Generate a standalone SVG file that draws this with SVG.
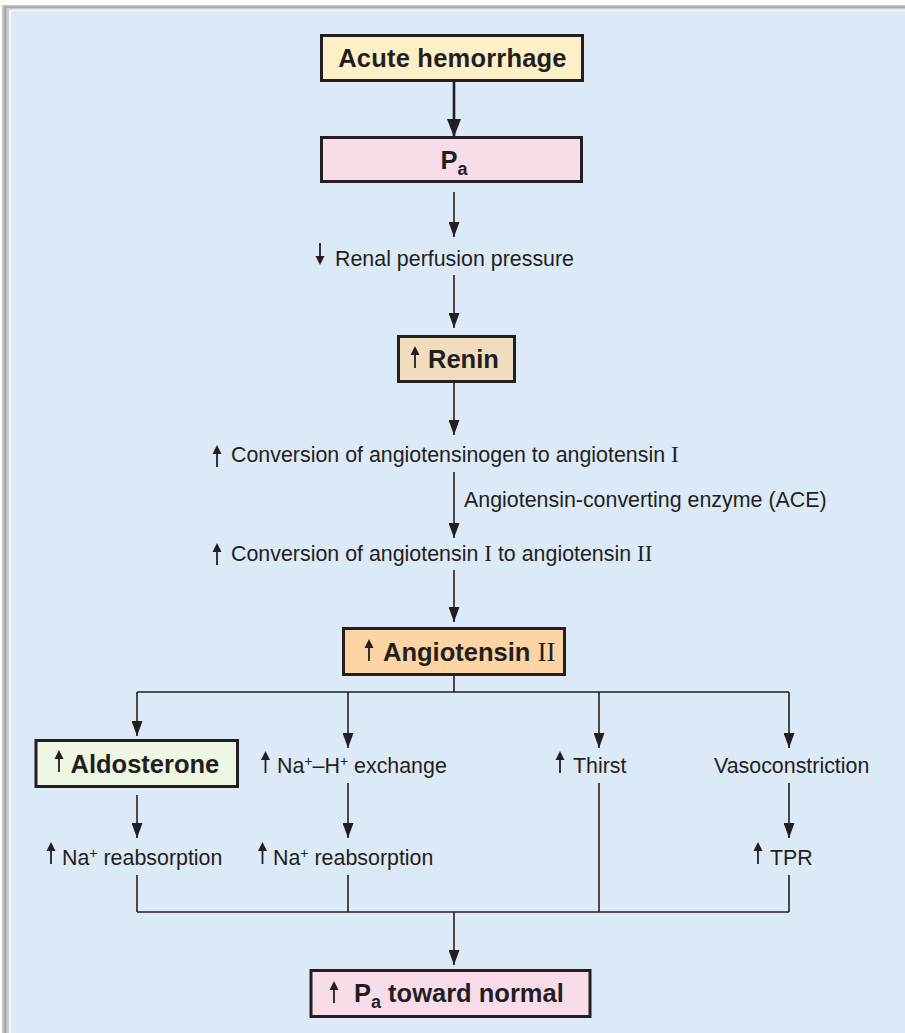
<svg xmlns="http://www.w3.org/2000/svg" xmlns:xlink="http://www.w3.org/1999/xlink" width="905" height="1033" viewBox="0 0 905 1033">
  <style>
    .box { stroke: #231f20; stroke-width: 3; }
    .conn { stroke: #231f20; stroke-width: 1.6; fill: none; }
    .thick { stroke-width: 2.6; }
    .t { font-family: "Liberation Sans", Arial, sans-serif; font-size: 21.4px; fill: #231f20; }
    .b { font-family: "Liberation Sans", Arial, sans-serif; font-size: 25.5px; font-weight: bold; fill: #231f20; }
    .rom { font-family: "Liberation Serif", "Times New Roman", serif; font-weight: normal; font-size: 23px; }
    .romb { font-family: "Liberation Serif", "Times New Roman", serif; font-weight: normal; font-size: 27px; }
  </style>
  <defs>
    <marker id="ah" markerUnits="userSpaceOnUse" markerWidth="15" markerHeight="11" refX="15" refY="5.5" orient="auto">
      <path d="M0,0 L15,5.5 L0,11 z" fill="#231f20"/>
    </marker>
    <marker id="ahb" markerUnits="userSpaceOnUse" markerWidth="18" markerHeight="14" refX="18" refY="7" orient="auto">
      <path d="M0,0 L18,7 L0,14 z" fill="#231f20"/>
    </marker>
    <g id="up">
      <path d="M0,0 L4.5,9 L-4.5,9 z" stroke="none" fill="#231f20"/>
      <line x1="0" y1="7" x2="0" y2="22" stroke="#231f20" stroke-width="1.8"/>
    </g>
    <g id="down">
      <path d="M0,22 L4.5,13 L-4.5,13 z" stroke="none" fill="#231f20"/>
      <line x1="0" y1="0" x2="0" y2="15" stroke="#231f20" stroke-width="1.8"/>
    </g>
  </defs>

  <!-- frame -->
  <rect x="0" y="0" width="905" height="1033" fill="#ffffff"/>
  <rect x="2" y="5" width="903" height="1028" fill="#c4c4c4"/>
  <rect x="4" y="6.5" width="901" height="1027" fill="#a8a8a8"/>
  <rect x="6.5" y="8" width="899" height="1025" fill="#cdcdcd"/>
  <rect x="9" y="9.5" width="896" height="1024" fill="#f4f6f8"/>
  <rect x="11" y="11" width="894" height="1022" fill="#dce9f7"/>

  <g id="connectors">
    <line class="conn thick" x1="454" y1="81" x2="454" y2="137" marker-end="url(#ahb)"/>
    <line class="conn" x1="454" y1="192" x2="454" y2="237" marker-end="url(#ah)"/>
    <line class="conn" x1="454" y1="275" x2="454" y2="328" marker-end="url(#ah)"/>
    <line class="conn" x1="454" y1="383" x2="454" y2="435" marker-end="url(#ah)"/>
    <line class="conn" x1="454" y1="472" x2="454" y2="538" marker-end="url(#ah)"/>
    <line class="conn" x1="454" y1="570" x2="454" y2="622" marker-end="url(#ah)"/>
    <line class="conn" x1="454" y1="675" x2="454" y2="692"/>
    <line class="conn" x1="137" y1="692" x2="789" y2="692"/>
    <line class="conn" x1="137" y1="692" x2="137" y2="736" marker-end="url(#ah)"/>
    <line class="conn" x1="348" y1="692" x2="348" y2="748" marker-end="url(#ah)"/>
    <line class="conn" x1="599" y1="692" x2="599" y2="748" marker-end="url(#ah)"/>
    <line class="conn" x1="789" y1="692" x2="789" y2="748" marker-end="url(#ah)"/>
    <line class="conn" x1="137" y1="795" x2="137" y2="838" marker-end="url(#ah)"/>
    <line class="conn" x1="348" y1="783" x2="348" y2="838" marker-end="url(#ah)"/>
    <line class="conn" x1="789" y1="783" x2="789" y2="838" marker-end="url(#ah)"/>
    <line class="conn" x1="137" y1="875" x2="137" y2="912"/>
    <line class="conn" x1="348" y1="875" x2="348" y2="912"/>
    <line class="conn" x1="599" y1="783" x2="599" y2="912"/>
    <line class="conn" x1="789" y1="875" x2="789" y2="912"/>
    <line class="conn" x1="137" y1="912" x2="789" y2="912"/>
    <line class="conn" x1="454" y1="912" x2="454" y2="965" marker-end="url(#ah)"/>
  </g>

  <g id="acute">
    <rect class="box" x="321.5" y="35.5" width="261" height="45" fill="#fdf0c9"/>
    <text class="b" x="452.5" y="66.5" text-anchor="middle" letter-spacing="0.2">Acute hemorrhage</text>
  </g>

  <g id="pa">
    <rect class="box" x="321.5" y="137.5" width="260" height="44" fill="#f9dce9"/>
    <text class="b" x="454" y="169" text-anchor="middle">P<tspan font-size="18" dy="6">a</tspan></text>
  </g>

  <g id="renal">
    <use xlink:href="#down" x="320" y="243"/>
    <text class="t" x="335" y="265.5">Renal perfusion pressure</text>
  </g>

  <g id="renin">
    <rect class="box" x="398.5" y="336.5" width="116" height="45" fill="#f1dcbe"/>
    <use xlink:href="#up" x="415" y="346"/>
    <text class="b" x="428" y="368">Renin</text>
  </g>

  <g id="conv1">
    <use xlink:href="#up" x="217" y="445"/>
    <text class="t" x="231" y="462">Conversion of angiotensinogen to angiotensin <tspan class="rom">I</tspan></text>
  </g>

  <g id="ace">
    <text class="t" x="464" y="507">Angiotensin-converting enzyme (ACE)</text>
  </g>

  <g id="conv2">
    <use xlink:href="#up" x="217" y="543"/>
    <text class="t" x="231" y="561">Conversion of angiotensin <tspan class="rom">I</tspan> to angiotensin <tspan class="rom">II</tspan></text>
  </g>

  <g id="angiotensin2">
    <rect class="box" x="343.5" y="628.5" width="221" height="46" fill="#fdd4a3"/>
    <use xlink:href="#up" x="369" y="639"/>
    <text class="b" x="383" y="661">Angiotensin <tspan class="romb">II</tspan></text>
  </g>

  <g id="aldosterone">
    <rect class="box" x="36" y="740.5" width="201.5" height="46" fill="#eef6e4"/>
    <use xlink:href="#up" x="59" y="750"/>
    <text class="b" x="70.5" y="773">Aldosterone</text>
  </g>

  <g id="nah">
    <use xlink:href="#up" x="265.5" y="751"/>
    <text class="t" x="277" y="773">Na<tspan font-size="14" dy="-7">+</tspan><tspan dy="7">–H</tspan><tspan font-size="14" dy="-7">+</tspan><tspan dy="7"> exchange</tspan></text>
  </g>

  <g id="thirst">
    <use xlink:href="#up" x="560" y="751"/>
    <text class="t" x="573" y="773">Thirst</text>
  </g>

  <g id="vaso">
    <text class="t" x="714" y="773">Vasoconstriction</text>
  </g>

  <g id="na1">
    <use xlink:href="#up" x="51" y="842"/>
    <text class="t" x="62" y="864.5">Na<tspan font-size="14" dy="-7">+</tspan><tspan dy="7"> reabsorption</tspan></text>
  </g>

  <g id="na2">
    <use xlink:href="#up" x="262.5" y="842"/>
    <text class="t" x="273" y="864.5">Na<tspan font-size="14" dy="-7">+</tspan><tspan dy="7"> reabsorption</tspan></text>
  </g>

  <g id="tpr">
    <use xlink:href="#up" x="758" y="842"/>
    <text class="t" x="770" y="864.5">TPR</text>
  </g>

  <g id="pa-normal">
    <rect class="box" x="311" y="970.5" width="279" height="46" fill="#f9dce9"/>
    <use xlink:href="#up" x="334" y="981"/>
    <text class="b" x="354" y="1002">P<tspan font-size="18" dy="6">a</tspan><tspan dy="-6"> toward normal</tspan></text>
  </g>
</svg>
